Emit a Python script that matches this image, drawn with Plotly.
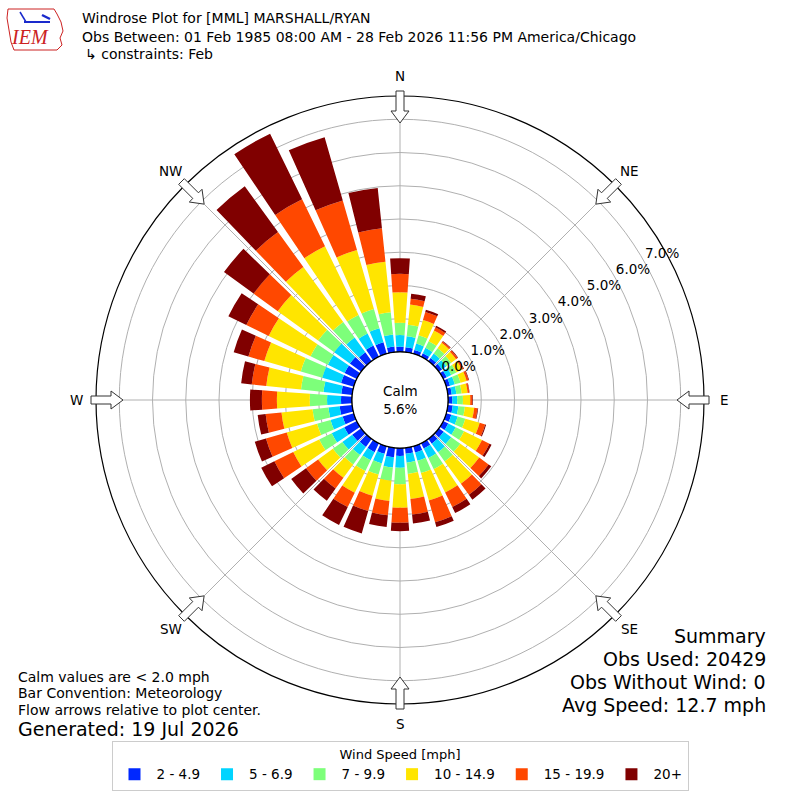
import math
import plotly.graph_objects as go

# ---------------- data ----------------
directions = [0, 10, 20, 30, 40, 50, 60, 70, 80, 90, 100, 110, 120, 130, 140, 150, 160, 170,
              180, 190, 200, 210, 220, 230, 240, 250, 260, 270, 280, 290, 300, 310, 320, 330, 340, 350]

speed_bins = ["2 - 4.9", "5 - 6.9", "7 - 9.9", "10 - 14.9", "15 - 19.9", "20+"]
bin_colors = ["#0028ff", "#00d4ff", "#7dff7a", "#ffe500", "#ff4800", "#800000"]

s_2_5 = [0.16, 0.15, 0.12, 0.12, 0.12, 0.12, 0.12, 0.12, 0.12, 0.13, 0.15, 0.16, 0.17, 0.18, 0.18, 0.18, 0.20, 0.18,
         0.24, 0.29, 0.24, 0.30, 0.30, 0.33, 0.42, 0.35, 0.38, 0.33, 0.33, 0.40, 0.41, 0.42, 0.33, 0.38, 0.36, 0.17]
s_5_7 = [0.35, 0.33, 0.20, 0.18, 0.16, 0.16, 0.15, 0.15, 0.14, 0.15, 0.17, 0.20, 0.25, 0.28, 0.32, 0.32, 0.26, 0.27,
         0.35, 0.31, 0.30, 0.27, 0.30, 0.37, 0.42, 0.38, 0.34, 0.42, 0.54, 0.59, 0.56, 0.58, 0.55, 0.40, 0.44, 0.37]
s_7_10 = [0.37, 0.35, 0.26, 0.22, 0.20, 0.18, 0.17, 0.18, 0.16, 0.17, 0.20, 0.24, 0.28, 0.34, 0.34, 0.37, 0.38, 0.34,
          0.50, 0.40, 0.35, 0.36, 0.35, 0.35, 0.42, 0.42, 0.48, 0.52, 0.68, 0.67, 0.58, 0.60, 0.58, 0.62, 0.60, 0.67]
s_10_15 = [0.92, 0.61, 0.48, 0.36, 0.20, 0.18, 0.19, 0.19, 0.18, 0.22, 0.28, 0.45, 0.60, 0.70, 0.83, 0.78, 0.86, 0.76,
           0.71, 0.61, 0.66, 0.73, 0.50, 0.55, 0.87, 0.95, 0.94, 0.99, 1.05, 1.14, 1.40, 1.50, 2.04, 2.30, 1.85, 1.53]
s_15_20 = [0.55, 0.18, 0.25, 0.11, 0.05, 0.06, 0.05, 0.06, 0.05, 0.06, 0.10, 0.17, 0.25, 0.35, 0.41, 0.49, 0.68, 0.47,
           0.45, 0.43, 0.48, 0.48, 0.40, 0.45, 0.63, 0.65, 0.48, 0.45, 0.44, 0.50, 0.75, 0.90, 1.30, 1.57, 1.55, 1.01]
s_20p = [0.47, 0.15, 0.07, 0.05, 0.02, 0.02, 0.02, 0.02, 0.01, 0.02, 0.02, 0.03, 0.07, 0.10, 0.18, 0.20, 0.15, 0.27,
         0.25, 0.36, 0.70, 0.60, 0.45, 0.55, 0.44, 0.35, 0.24, 0.36, 0.32, 0.46, 0.60, 1.10, 1.70, 2.20, 1.98, 1.22]
series = [s_2_5, s_5_7, s_7_10, s_10_15, s_15_20, s_20p]

radial_ticks = [0, 1, 2, 3, 4, 5, 6, 7]
radial_labels = ["0.0%", "1.0%", "2.0%", "3.0%", "4.0%", "5.0%", "6.0%", "7.0%"]
compass_angles = [0, 45, 90, 135, 180, 225, 270, 315]
compass_labels = ["N", "NE", "E", "SE", "S", "SW", "W", "NW"]

calm_pct = "5.6%"
title_lines = ["Windrose Plot for [MML] MARSHALL/RYAN",
               "Obs Between: 01 Feb 1985 08:00 AM - 28 Feb 2026 11:56 PM America/Chicago",
               "\u21b3 constraints: Feb"]
notes = ["Calm values are < 2.0 mph", "Bar Convention: Meteorology", "Flow arrows relative to plot center."]
generated = "Generated: 19 Jul 2026"
summary = ["Summary", "Obs Used: 20429", "Obs Without Wind: 0", "Avg Speed: 12.7 mph"]

FONT = "DejaVu Sans"
W = H = 800
RMAX = 7.7

fig = go.Figure()

for name, vals, col in zip(speed_bins, series, bin_colors):
    fig.add_trace(go.Barpolar(
        r=vals, theta=directions, width=8, name=name,
        marker=dict(color=col, line=dict(width=0)),
        hoverinfo="skip",
    ))

# calm circle edge
fig.add_trace(go.Scatterpolar(
    r=[0] * 361, theta=list(range(361)), mode="lines",
    line=dict(color="black", width=1.2), showlegend=False, hoverinfo="skip"))

# radial tick labels
fig.add_trace(go.Scatterpolar(
    r=[t + 0.57 for t in radial_ticks], theta=[61] * len(radial_ticks),
    mode="text", text=radial_labels, textposition="middle center",
    textfont=dict(family=FONT, size=13.5, color="black"),
    showlegend=False, hoverinfo="skip", cliponaxis=False))

fig.update_layout(
    width=W, height=H,
    margin=dict(l=0, r=0, t=0, b=0),
    paper_bgcolor="white",
    font=dict(family=FONT, size=13, color="black"),
    polar=dict(
        domain=dict(x=[0.12, 0.88], y=[0.12, 0.88]),
        hole=0.158,
        bgcolor="white",
        barmode="stack",
        radialaxis=dict(range=[0, RMAX], tickvals=radial_ticks, showticklabels=False,
                        ticks="", showline=False, gridcolor="#b0b0b0", gridwidth=1),
        angularaxis=dict(rotation=90, direction="clockwise", tickvals=compass_angles,
                         showticklabels=False, ticks="", gridcolor="#b0b0b0", gridwidth=1,
                         showline=True, linecolor="black", linewidth=1.2),
    ),
    legend=dict(
        orientation="h", x=0.5, xanchor="center", y=1 - 741 / H, yanchor="top",
        bordercolor="#cccccc", borderwidth=1, bgcolor="white",
        title=dict(text="Wind Speed [mph]", side="top center", font=dict(family=FONT, size=13)),
        font=dict(family=FONT, size=13.5),
        traceorder="normal", itemwidth=34,
    ),
)

# hollow compass arrows pointing to the centre, and compass labels
shapes = []
ann = []
cx, cy = W / 2, H / 2
for ang, lab in zip(compass_angles, compass_labels):
    a = math.radians(ang)
    ux, uy = math.sin(a), -math.cos(a)
    px, py = math.cos(a), math.sin(a)
    pts = [(277, 0), (289, 9), (289, 4), (309, 4), (309, -4), (289, -4), (289, -9)]
    path = ""
    for i, (s, t) in enumerate(pts):
        X = cx + s * ux + t * px
        Y = cy + s * uy + t * py
        path += ("M" if i == 0 else "L") + f"{X / W:.5f},{1 - Y / H:.5f} "
    path += "Z"
    shapes.append(dict(type="path", path=path, xref="paper", yref="paper",
                       line=dict(color="#333333", width=1), fillcolor="white"))
    LX = cx + 324 * ux
    LY = cy + 324 * uy
    ann.append(dict(text=lab, x=LX / W, y=1 - LY / H, xref="paper", yref="paper", showarrow=False,
                    xanchor="center", yanchor="middle", font=dict(family=FONT, size=13.5)))

# simple logo: state outline, station symbol
logo = [(8, 9), (54, 9), (57, 14), (61, 22), (63, 31), (60, 38), (62, 45), (57, 50), (14, 50), (11, 42), (9, 30), (7, 18)]
lp = "".join(("M" if i == 0 else "L") + f"{x / W:.5f},{1 - y / H:.5f} " for i, (x, y) in enumerate(logo)) + "Z"
shapes.append(dict(type="path", path=lp, xref="paper", yref="paper",
                   line=dict(color="#cc2222", width=1), fillcolor="rgba(0,0,0,0)"))
shapes.append(dict(type="line", xref="paper", yref="paper", x0=24 / W, x1=50 / W, y0=1 - 22 / H, y1=1 - 22 / H,
                   line=dict(color="#1a2acc", width=2)))
shapes.append(dict(type="line", xref="paper", yref="paper", x0=20 / W, x1=26 / W, y0=1 - 12 / H, y1=1 - 22 / H,
                   line=dict(color="#1a2acc", width=1.5)))
shapes.append(dict(type="line", xref="paper", yref="paper", x0=42 / W, x1=50 / W, y0=1 - 15 / H, y1=1 - 19 / H,
                   line=dict(color="#1a2acc", width=2.5)))
fig.update_layout(shapes=shapes)

ann.append(dict(text="<i>IEM</i>", x=30 / W, y=1 - 37 / H, xref="paper", yref="paper", showarrow=False,
                xanchor="center", yanchor="middle",
                font=dict(family="Liberation Serif", size=20, color="#cc2222")))
ann.append(dict(text="Calm<br>" + calm_pct, x=0.5, y=0.5, xref="paper", yref="paper", showarrow=False,
                font=dict(family=FONT, size=13.5)))
for i, (txt, yy) in enumerate(zip(title_lines, [18, 37, 54])):
    ann.append(dict(text=txt, x=(80 if i < 2 else 83) / W, y=1 - yy / H, xref="paper", yref="paper",
                    xanchor="left", yanchor="middle", showarrow=False, font=dict(family=FONT, size=14)))
for txt, yy in zip(notes, [677, 693, 710]):
    ann.append(dict(text=txt, x=16 / W, y=1 - yy / H, xref="paper", yref="paper",
                    xanchor="left", yanchor="middle", showarrow=False, font=dict(family=FONT, size=14)))
ann.append(dict(text=generated, x=16 / W, y=1 - 729 / H, xref="paper", yref="paper",
                xanchor="left", yanchor="middle", showarrow=False, font=dict(family=FONT, size=19)))
for txt, yy in zip(summary, [636, 659, 682, 705]):
    ann.append(dict(text=txt, x=768 / W, y=1 - yy / H, xref="paper", yref="paper",
                    xanchor="right", yanchor="middle", showarrow=False, font=dict(family=FONT, size=19)))
fig.update_layout(annotations=ann)

fig.write_html("out.html", config={"displayModeBar": False},
               post_script="document.body.style.margin='0px';document.body.style.padding='0px';")
